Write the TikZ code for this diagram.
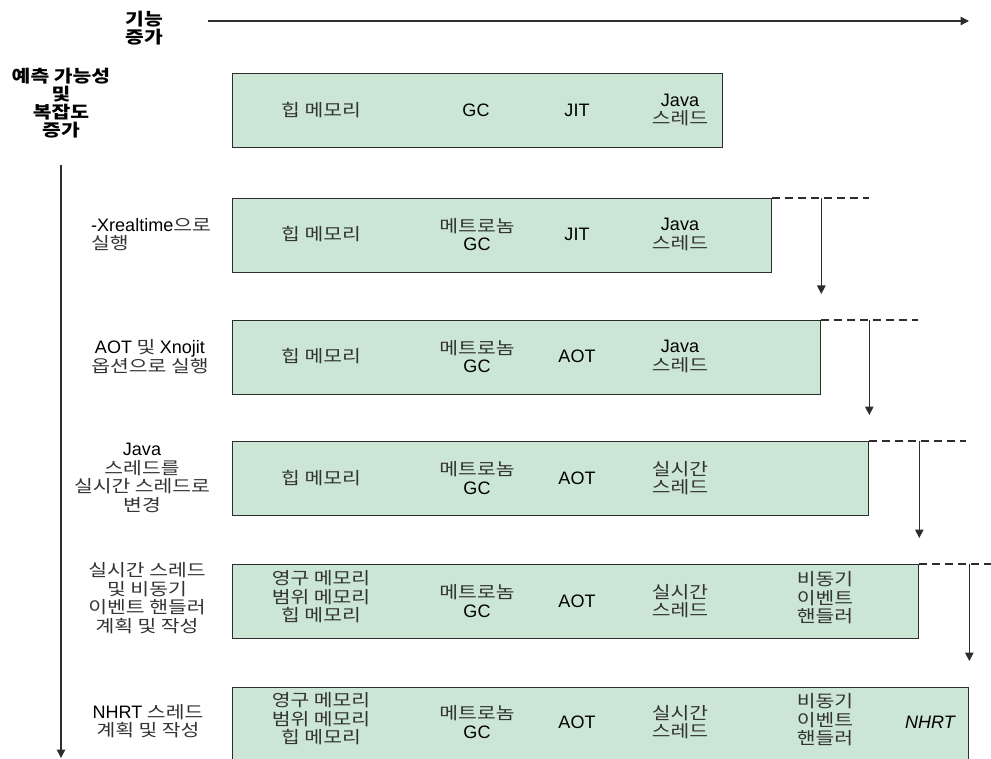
\documentclass[tikz,border=0pt]{standalone}
\usepackage{fontspec}
\setmainfont{Noto Sans CJK KR}[FakeStretch=1.2]
\newfontfamily\latfont{Liberation Sans}[Scale=1.06]
\newcommand\en[1]{{\latfont\color{black}#1}}
\usetikzlibrary{arrows.meta}
\tikzset{>={Triangle[length=8.5pt,width=8.5pt]}}
\definecolor{lanegreen}{RGB}{204,230,213}
\definecolor{edgegray}{RGB}{45,45,45}

\begin{document}
\begin{tikzpicture}[x=1pt,y=-1pt,
    lane/.style={draw=edgegray,line width=1.3pt,fill=lanegreen,anchor=north west,
      minimum height=74pt,inner sep=0pt},
    item/.style={align=center,inner sep=0pt,text=black!80,
      font=\fontsize{17}{18.6}\selectfont},
    head/.style={item,text=black,font=\fontsize{17}{17.8}\selectfont\bfseries},
    axis/.style={draw=edgegray,line width=1.3pt,->},
    guide/.style={draw=edgegray,line width=1.3pt,dash pattern=on 8pt off 5pt}]

      \useasboundingbox (0,0) rectangle (991,759);

      % axes
      \node[head] (feat) at (144,28) {기능\\증가};
      \node[head] (pred) at (61,103) {예측 가능성\\및\\복잡도\\증가};
      \coordinate (fs) at (208,21);
      \coordinate (fe) at (969,21);
      \draw[axis] (fs) -- (fe);
      \coordinate (ps) at (61,165);
      \coordinate (pe) at (61,758);
      \draw[axis] (ps) -- (pe);

      % lanes
      \foreach \n/\w/\t in {1/490/73, 2/539/198, 3/588/320, 4/636/441, 5/686/564, 6/736/687} {
        \node[lane,minimum width=\w pt] (b\n) at (232,\t) {};
      }

      % steps on the left
      \node[item,anchor=west,align=left] (l2) at (91,234.5) {\en{-Xrealtime}으로\\실행};
      \node[item] (l3) at (150,356.5) {\en{AOT} 및 \en{Xnojit}\\옵션으로 실행};
      \node[item] (l4) at (142,478) {\en{Java}\\스레드를\\실시간 스레드로\\변경};
      \node[item] (l5) at (147,598) {실시간 스레드\\및 비동기\\이벤트 핸들러\\계획 및 작성};
      \node[item] (l6) at (148,721) {\en{NHRT} 스레드\\계획 및 작성};

      % lane contents
      \foreach \r/\y in {1/110, 2/234.5, 3/356.5, 4/478} {
        \node[item] (heap\r) at (321,\y) {힙 메모리};
      }
      \foreach \r/\y in {5/597, 6/719} {
        \node[item] (heap\r) at (321,\y) {영구 메모리\\범위 메모리\\힙 메모리};
      }

      \node[item] (gc1) at (476,110) {\en{GC}};
      \foreach \r/\y in {2/234.5, 3/356.5, 4/478, 5/601, 6/722} {
        \node[item] (gc\r) at (477,\y) {메트로놈\\\en{GC}};
      }

      \foreach \r/\y in {1/110, 2/234.5} {
        \node[item] (comp\r) at (577,\y) {\en{JIT}};
      }
      \foreach \r/\y in {3/356.5, 4/478, 5/601, 6/722} {
        \node[item] (comp\r) at (577,\y) {\en{AOT}};
      }

      \foreach \r/\y in {1/110, 2/234.5, 3/356.5} {
        \node[item] (thr\r) at (680,\y) {\en{Java}\\스레드};
      }
      \foreach \r/\y in {4/478, 5/601, 6/722} {
        \node[item] (thr\r) at (680,\y) {실시간\\스레드};
      }

      \foreach \r/\y in {5/598, 6/720} {
        \node[item] (async\r) at (825,\y) {비동기\\이벤트\\핸들러};
      }
      \node[item] (nhrt6) at (930,722) {\en{\itshape NHRT}};

      % steps between lanes
      \foreach \i/\j in {2/3, 3/4, 4/5, 5/6} {
        \path (b\i.north east) ++(97,0) coordinate (d\i);
        \draw[guide] (b\i.north east) -- (d\i);
        \path (b\j.north east) ++(0,-26) coordinate (t\i);
        \draw[axis] (b\j.north east |- b\i.north) -- (t\i);
      }
    \end{tikzpicture}
\end{document}
